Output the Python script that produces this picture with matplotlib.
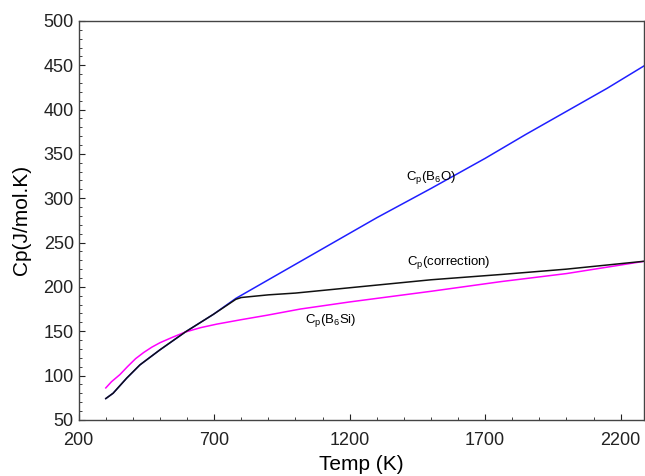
import matplotlib
matplotlib.use('Agg')
import matplotlib.pyplot as plt
from matplotlib.ticker import MultipleLocator

plt.rcParams['font.family'] = ['Liberation Sans', 'DejaVu Sans']
plt.rcParams['mathtext.fontset'] = 'custom'
plt.rcParams['mathtext.rm'] = 'Liberation Sans'

# heat capacity data
tB6O = [300, 327, 377, 426, 500, 593, 697, 780, 900, 1100, 1300, 1500, 1700, 1850, 2000, 2150, 2290]
cpB6O = [74, 80, 97, 112, 129, 149, 169, 187, 208, 243, 278, 311, 345, 372, 398, 424, 450]

tCorr = [300, 327, 377, 426, 500, 593, 697, 780, 800, 900, 1000, 1200, 1500, 1760, 2000, 2290]
cpCorr = [74, 80, 97, 112, 129, 149, 169, 186, 188, 191, 193, 199, 208, 214, 220, 229]

tB6Si = [300, 321, 352, 380, 410, 440, 470, 500, 545, 593, 650, 710, 800, 895, 1018, 1200, 1500, 1760, 2000, 2290]
cpB6Si = [86, 93, 101, 110, 119, 126, 132, 137, 143, 149, 154, 158, 163, 168, 175, 183, 195, 206, 215, 229]

xticks = [200, 700, 1200, 1700, 2200]

fig = plt.figure(figsize=(6.45, 4.76), dpi=100)
ax = fig.add_axes([0.122, 0.118, 0.876, 0.838])

ax.plot(tB6O, cpB6O, color='#1f1fff', lw=1.1)
ax.plot(tB6Si, cpB6Si, color='#ff00ff', lw=1.1)
ax.plot(tCorr, cpCorr, color='#111111', lw=1.1)

ax.text(1500, 323, r'C$_\mathrm{p}$(B$_\mathrm{6}$O)', fontsize=9.5, ha='center', va='center')
ax.text(1567, 228, r'C$_\mathrm{p}$(correction)', fontsize=9.5, ha='center', va='center')
ax.text(1130, 162, r'C$_\mathrm{p}$(B$_\mathrm{6}$Si)', fontsize=9.5, ha='center', va='center')

ax.set_xlim(200, 2285)
ax.set_ylim(50, 500)
ax.set_xticks(xticks)
ax.xaxis.set_minor_locator(MultipleLocator(100))
ax.yaxis.set_major_locator(MultipleLocator(50))
ax.yaxis.set_minor_locator(MultipleLocator(10))
ax.tick_params(which='both', direction='in', top=False, right=False, labelsize=13, colors='#222222')
ax.tick_params(which='major', length=4)
ax.tick_params(which='minor', length=2.5)
ax.tick_params(axis='x', which='major', pad=9)
for s in ax.spines.values():
    s.set_color('#444444')
    s.set_linewidth(1.0)

ax.set_xlabel('Temp (K)', fontsize=15, labelpad=4)
ax.set_ylabel('Cp(J/mol.K)', fontsize=15, labelpad=9)

fig.savefig('out.png', dpi=100)
